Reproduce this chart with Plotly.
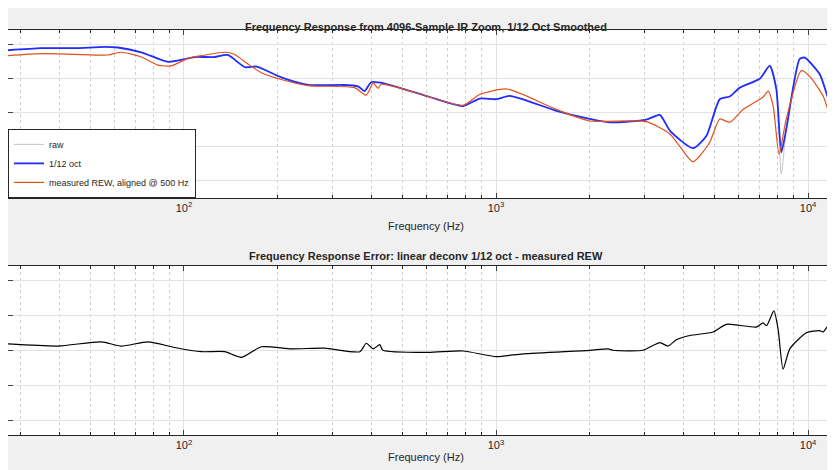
import plotly.graph_objects as go

# top panel: 1/12 oct smoothed (Hz, dB)
f_oct = [27.3, 34.9, 44.7, 55.7, 61.4, 73, 89, 100.5, 108, 125, 138, 157, 171, 205, 250, 319, 361, 379, 398, 440, 497, 606,
         784, 887, 1002, 1107, 1561, 1996, 2313, 3033, 3348, 3606, 4277, 4721, 5212, 5611, 6041, 7000, 7537, 7913, 8207,
         8516, 9393, 9749, 10890, 12010, 12940]
db_oct = [4.1, 4.4, 4.4, 4.6, 4.5, 3.8, 2.4, 2.8, 3.1, 3.1, 3.4, 1.6, 1.7, 0.1, -1.0, -1.0, -1.2, -1.9, -0.6, -0.8, -1.5, -2.7,
          -4.1, -3.0, -3.1, -2.6, -4.8, -6.0, -6.5, -6.1, -5.4, -7.7, -10.3, -8.5, -3.1, -2.7, -1.4, -0.1, 1.8, -1.6, -10.9,
          -7.5, 2.8, 3.0, 0.6, -4.6, -5.3]
# raw (unsmoothed) - follows the smoothed curve, deeper notch near 8 kHz
db_raw = [4.1, 4.4, 4.4, 4.6, 4.5, 3.8, 2.4, 2.8, 3.1, 3.1, 3.4, 1.6, 1.7, 0.1, -1.0, -1.0, -1.2, -1.9, -0.6, -0.8, -1.5, -2.7,
          -4.1, -3.0, -3.1, -2.6, -4.8, -6.0, -6.5, -6.1, -5.4, -7.7, -10.3, -8.5, -3.1, -2.7, -1.4, -0.1, 2.0, -1.6, -14.1,
          -7.5, 2.8, 3.2, 0.6, -4.6, -5.3]

# measured REW, aligned @ 500 Hz
f_rew = [27.3, 34.9, 44.7, 57, 63, 73, 82.6, 91, 103, 113.7, 135, 145, 160, 177, 205, 250, 352, 384, 404, 419, 429, 497, 606,
         784, 887, 1084, 1561, 1996, 3033, 3606, 3875, 4277, 4833, 5212, 5611, 6190, 7170, 7450, 7730, 8075, 8516, 9510,
         10110, 11170, 12010, 12940]
db_rew = [3.3, 3.6, 3.5, 3.4, 3.8, 3.1, 1.9, 1.8, 2.9, 3.3, 3.8, 3.5, 2.1, 0.8, -0.2, -1.1, -1.4, -2.5, -0.7, -1.5, -0.9, -1.5, -2.7,
          -4.0, -2.4, -1.6, -4.6, -6.3, -6.4, -8.2, -10.0, -12.3, -9.5, -6.0, -6.5, -4.6, -2.8, -1.9, -4.1, -11.2, -6.0, 1.1,
          0.3, -2.6, -6.3, -6.0]

# bottom panel: error, deconv 1/12 oct - measured REW
f_err = [27.3, 39.5, 54.3, 63, 76.7, 93.3, 113.7, 135, 153, 177, 221, 282, 366, 384, 404, 424, 434, 606,
         784, 1002, 1222, 1996, 2287, 2372, 2957, 3348, 3557, 3783, 4181, 4962, 5475, 6829, 7170, 7363, 7770, 8017,
         8318, 8740, 9877, 10890, 11170, 11720, 12180, 12940]
db_err = [0.9, 0.6, 1.2, 0.6, 1.2, 0.4, -0.2, -0.2, -1.0, 0.5, 0.2, 0.3, -0.2, 1.0, 0.2, 0.8, 0.0, -0.3,
          -0.1, -0.9, -0.5, 0.0, 0.2, 0.0, 0.0, 1.1, 0.6, 1.5, 2.1, 2.6, 3.7, 3.3, 3.9, 3.5, 5.6, 3.0,
          -2.7, 0.2, 2.5, 2.8, 2.6, 3.7, 2.6, 2.3]

decades = [100, 1000, 10000]
decade_text = ['10<sup>2</sup>', '10<sup>3</sup>', '10<sup>4</sup>']
minor_vals = [m * d for d in [10, 100, 1000, 10000] for m in range(2, 10)]

fig = go.Figure()
fig.add_trace(go.Scatter(x=f_oct, y=db_raw, name='raw', mode='lines', line=dict(color='#c4c4c4', width=1, shape='spline', smoothing=0.6),
                         xaxis='x', yaxis='y'))
fig.add_trace(go.Scatter(x=f_oct, y=db_oct, name='1/12 oct', mode='lines', line=dict(color='#1f2eff', width=1.8, shape='spline', smoothing=0.6),
                         xaxis='x', yaxis='y'))
fig.add_trace(go.Scatter(x=f_rew, y=db_rew, name='measured REW, aligned @ 500 Hz', mode='lines',
                         line=dict(color='#e2501b', width=1.2, shape='spline', smoothing=0.6), xaxis='x', yaxis='y'))
fig.add_trace(go.Scatter(x=f_err, y=db_err, mode='lines', showlegend=False,
                         line=dict(color='black', width=1.2, shape='spline', smoothing=0.6),
                         xaxis='x2', yaxis='y2'))

xax = dict(type='log', range=[1.436, 4.112], tickvals=decades, ticktext=decade_text, ticks='inside', ticklen=5,
           showline=True, linecolor='#262626', mirror='ticks', gridcolor='#e2e2e2', zeroline=False, automargin=False,
           tickfont=dict(size=11, color='#262626'),
           minor=dict(tickvals=minor_vals, showgrid=True, griddash='dot', gridcolor='#d0d0d0', ticks='inside', ticklen=3,
                      tickcolor='#262626'))
yax = dict(showticklabels=False, dtick=5, ticks='inside', ticklen=5, showline=True, linecolor='#262626', mirror='ticks',
           gridcolor='#e2e2e2', zeroline=False, automargin=False)

fig.update_layout(
    width=835, height=470, margin=dict(l=0, r=0, t=0, b=0, pad=0, autoexpand=False),
    paper_bgcolor='#f0f0f0', plot_bgcolor='white',
    font=dict(family='Liberation Sans, Arial', size=11, color='#262626'),
    xaxis=dict(xax, domain=[0, 1], anchor='y'),
    yaxis=dict(yax, domain=[0.596, 0.953], range=[-17.6, 7.06], anchor='x'),
    xaxis2=dict(xax, domain=[0, 1], anchor='y2'),
    yaxis2=dict(yax, domain=[0.091, 0.451], range=[-12.1, 12], anchor='x2'),
    legend=dict(x=0, y=0.596, xanchor='left', yanchor='bottom', bgcolor='white', bordercolor='#262626', borderwidth=1,
                font=dict(size=9), tracegroupgap=0, itemwidth=30),
    showlegend=True,
)
for txt, y in [('<b>Frequency Response from 4096-Sample IR Zoom, 1/12 Oct Smoothed</b>', 11),
               ('<b>Frequency Response Error: linear deconv 1/12 oct - measured REW</b>', 248)]:
    fig.add_annotation(text=txt, x=0.5, y=1 - y / 470, xref='paper', yref='paper', showarrow=False, font=dict(size=11))
for y in [218, 457]:
    fig.add_annotation(text='Frequency (Hz)', x=0.5, y=1 - y / 470, xref='paper', yref='paper', showarrow=False,
                       font=dict(size=11))

fig.write_html("out.html")
